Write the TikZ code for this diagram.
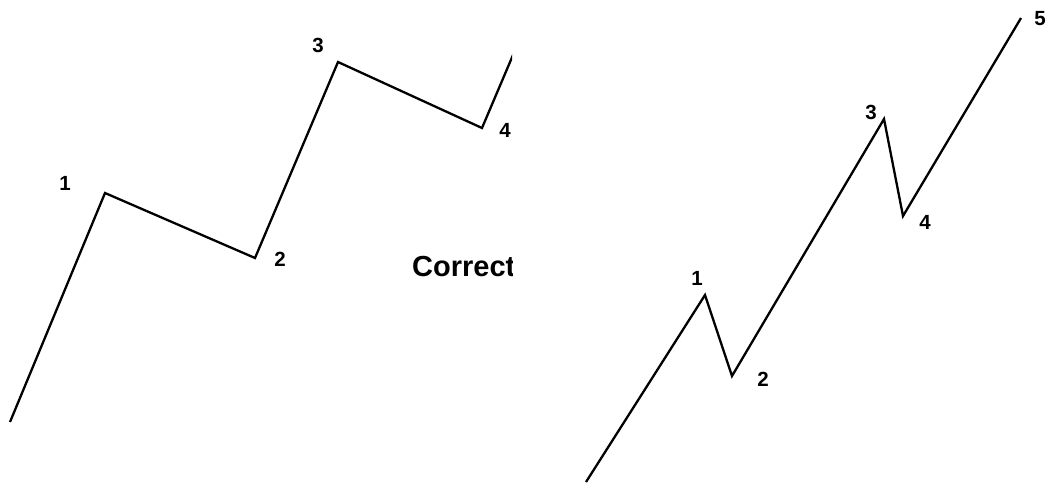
\documentclass[tikz,border=0pt]{standalone}
\usepackage{fontspec}
\setmainfont{Liberation Sans}
\begin{document}
\begin{tikzpicture}[x=1pt,y=-1pt,
  wave/.style={line width=2.3pt, line join=miter, black},
  lbl/.style={font=\fontsize{20.5}{20.5}\selectfont\bfseries, inner sep=0pt}]
\useasboundingbox (0,0) rectangle (1046,482);
% left panel (clipped)
\begin{scope}
\clip (0,0) rectangle (512,482);
\coordinate (a0) at (10,422);
\coordinate (a1) at (105,193);
\coordinate (a2) at (255,258);
\coordinate (a3) at (338,62);
\coordinate (a4) at (482,128);
\coordinate (a5) at (530,15);
\draw[wave] (a0) -- (a1) -- (a2) -- (a3) -- (a4) -- (a5);
\node[lbl] (la1) at (65,183) {1};
\node[lbl] (la2) at (280,259) {2};
\node[lbl] (la3) at (318,45) {3};
\node[lbl] (la4) at (505,130) {4};
\node[anchor=base west, inner sep=0pt, font=\fontsize{29}{29}\selectfont\bfseries] (corr) at (412,276) {Correct};
\end{scope}
% right panel
\coordinate (b0) at (586,482);
\coordinate (b1) at (705,295);
\coordinate (b2) at (732,376);
\coordinate (b3) at (884,119);
\coordinate (b4) at (903,216);
\coordinate (b5) at (1021,18);
\draw[wave] (b0) -- (b1) -- (b2) -- (b3) -- (b4) -- (b5);
\node[lbl] (lb1) at (697,278) {1};
\node[lbl] (lb2) at (763,379) {2};
\node[lbl] (lb3) at (871,112) {3};
\node[lbl] (lb4) at (925,222) {4};
\node[lbl] (lb5) at (1040,19) {5};
\end{tikzpicture}
\end{document}
